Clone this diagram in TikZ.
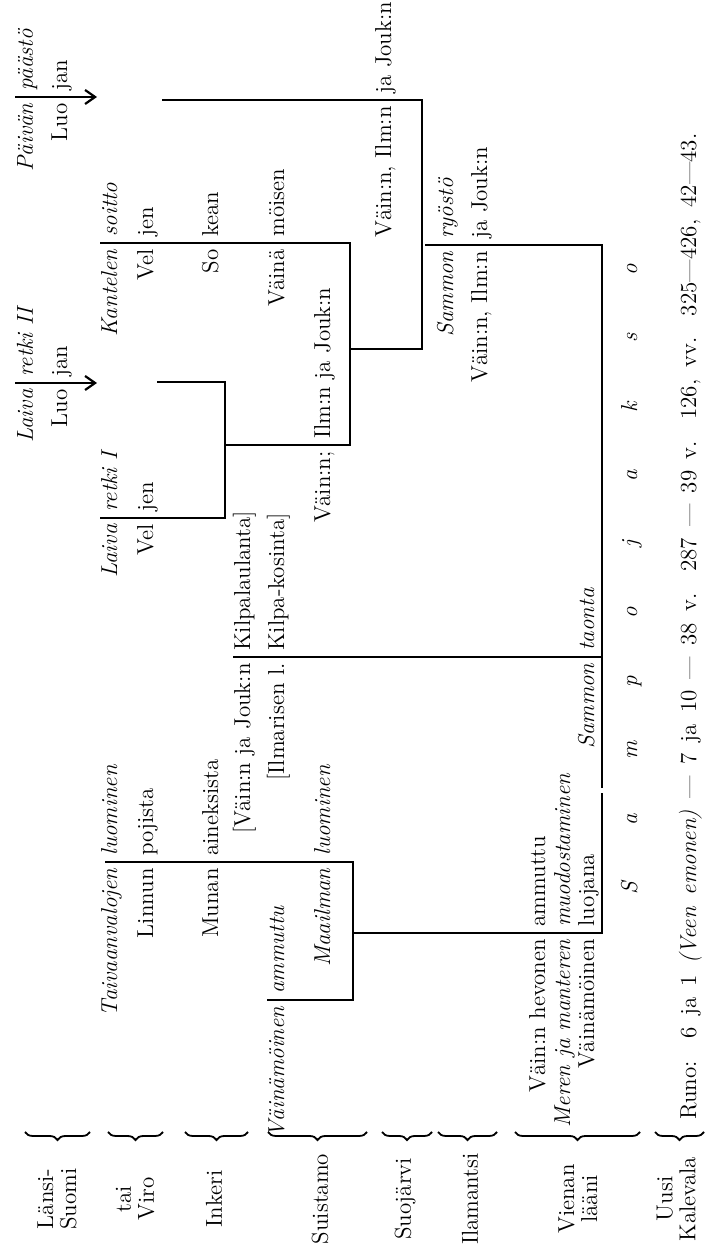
\documentclass[tikz,border=0pt]{standalone}
\usepackage{fontspec}
\usetikzlibrary{arrows.meta,decorations.pathreplacing}

\newcommand{\tabfont}{\fontsize{11.5}{11.5}\selectfont}

\begin{document}
\begin{tikzpicture}[
  x=0.5pt, y=0.5pt,
  word/.style={inner sep=0pt, font=\tabfont},
  slant/.style={inner sep=0pt, font=\tabfont\itshape},
  place/.style={inner sep=0pt, font=\tabfont, align=center},
  rule/.style={line width=1pt},
  pick/.style={rule, -{Straight Barb[length=5pt, width=7pt, line width=1.1pt]}},
  region/.style={line width=0.9pt, decorate, decoration={brace, amplitude=4pt}},
]
\begin{scope}[rotate=90, transform shape]
\useasboundingbox (0,0) rectangle (1246,-706);

% regions
\draw [region] (114,-90) -- (114,-25);
\draw [region] (114,-163) -- (114,-108);
\draw [region] (114,-248) -- (114,-185);
\draw [region] (114,-367) -- (114,-268);
\draw [region] (114,-432) -- (114,-382);
\draw [region] (114,-497) -- (114,-438);
\draw [region] (114,-640) -- (114,-515);
\draw [region] (114,-704) -- (114,-655);

\node [place] (lansi) at (47,-57) {Länsi-\\Suomi};
\node [place] (viro) at (47,-135) {tai\\Viro};
\node [place] (inkeri) at (47,-214) {Inkeri};
\node [place] (suistamo) at (47,-320) {Suistamo};
\node [place] (suojarvi) at (47,-405) {Suojärvi};
\node [place] (ilamantsi) at (47,-470) {Ilamantsi};
\node [place] (vienan) at (47,-578) {Vienan\\lääni};
\node [place] (kalevala) at (47,-676) {Uusi\\Kalevala};

% bars
\draw [pick] (1149,-15) -- (1149,-97);
\draw [pick] (863,-15) -- (863,-97);
\draw [rule] (384,-105) -- (384,-353) -- (246,-353) -- (246,-267);
\draw [rule] (313,-353) -- (313,-602) -- (453,-602);
\draw [rule] (589,-233) -- (589,-602);
\draw [rule] (1001,-425) -- (1001,-602) -- (458,-602);
\draw [rule] (1003,-100) -- (1003,-350) -- (801,-350) -- (801,-225);
\draw [rule] (728,-100) -- (728,-225) -- (864,-225) -- (864,-157);
\draw [rule] (897,-350) -- (897,-422) -- (1146,-422) -- (1146,-162);

% first lines
\node [slant, anchor=base east] (laiva2) at (857,-33) {Laiva};
\node [slant, anchor=base west] (retki2) at (869,-33) {retki II};
\node [slant, anchor=base east] (paivan) at (1143,-33) {Päivän};
\node [slant, anchor=base west] (paasto) at (1155,-33) {päästö};
\node [word, anchor=base east] (luo2) at (857,-67) {Luo};
\node [word, anchor=base west] (jan2) at (869,-67) {jan};
\node [word, anchor=base east] (luo3) at (1143,-67) {Luo};
\node [word, anchor=base west] (jan3) at (1155,-67) {jan};

\node [slant, anchor=base east] (taivas) at (378,-117) {Taivaanvalojen};
\node [slant, anchor=base west] (luomA) at (390,-117) {luominen};
\node [slant, anchor=base east] (laiva1) at (722,-117) {Laiva};
\node [slant, anchor=base west] (retki1) at (734,-117) {retki I};
\node [slant, anchor=base east] (kantele) at (997,-117) {Kantelen};
\node [slant, anchor=base west] (soitto) at (1009,-117) {soitto};
\node [word, anchor=base east] (linnun) at (378,-153) {Linnun};
\node [word, anchor=base west] (pojista) at (390,-153) {pojista};
\node [word, anchor=base east] (vel1) at (722,-153) {Vel};
\node [word, anchor=base west] (jen1) at (734,-153) {jen};
\node [word, anchor=base east] (vel2) at (997,-153) {Vel};
\node [word, anchor=base west] (jen2) at (1009,-153) {jen};

\node [word, anchor=base east] (munan) at (378,-218) {Munan};
\node [word, anchor=base west] (aines) at (390,-218) {aineksista};
\node [word, anchor=base east] (so) at (997,-218) {So};
\node [word, anchor=base west] (kean) at (1009,-218) {kean};
\node [word, anchor=base east] (vjA) at (583,-250) {[Väin:n ja Jouk:n};
\node [word, anchor=base west] (kilpaA) at (595,-250) {Kilpalaulanta]};

\node [slant, anchor=base east] (vainaA) at (240,-284) {Väinämöinen};
\node [slant, anchor=base west] (ammuA) at (252,-284) {ammuttu};
\node [word, anchor=base east] (ilmar) at (583,-284) {[Ilmarisen l.};
\node [word, anchor=base west] (kilpaB) at (595,-284) {Kilpa-kosinta]};
\node [word, anchor=base east] (vaina) at (997,-284) {Väinä};
\node [word, anchor=base west] (moisen) at (1009,-284) {möisen};
\node [slant, anchor=base east] (maailma) at (378,-330) {Maailman};
\node [slant, anchor=base west] (luomB) at (390,-330) {luominen};
\node [word, anchor=base east] (vainB) at (795,-330) {Väin:n;};
\node [word, anchor=base west] (ijA) at (807,-330) {Ilm:n ja Jouk:n};

\node [word, anchor=base east] (vi1) at (1140,-391) {Väin:n, Ilm:n};
\node [word, anchor=base west] (jj1) at (1152,-391) {ja Jouk:n};

\node [slant, anchor=base east] (sammonA) at (995,-453) {Sammon};
\node [slant, anchor=base west] (ryosto) at (1007,-453) {ryöstö};
\node [word, anchor=base east] (vi2) at (995,-487) {Väin:n, Ilm:n};
\node [word, anchor=base west] (jj2) at (1007,-487) {ja Jouk:n};

\node [word, anchor=base east] (hevonen) at (307,-545) {Väin:n hevonen};
\node [word, anchor=base west] (ammuB) at (319,-545) {ammuttu};
\node [slant, anchor=base east] (meren) at (307,-570) {Meren ja manteren};
\node [slant, anchor=base west] (muodos) at (319,-570) {muodostaminen};
\node [word, anchor=base east] (vainaB) at (307,-594) {Väinämöinen};
\node [word, anchor=base west] (luojana) at (319,-594) {luojana};
\node [slant, anchor=base east] (sammonB) at (583,-594) {Sammon};
\node [slant, anchor=base west] (taonta) at (595,-594) {taonta};

\foreach \ch [count=\i from 0] in {S,a,m,p,o,j,a,k,s,o}
  \node [slant, anchor=base] (sampo\i) at ({358+68.7*\i},-637) {\ch};

\node [word, anchor=base west] (runo) at (126,-696)
  {\makebox[493pt][s]{Runo:\quad 6 ja 1 \textit{(Veen emonen)} --- 7 ja 10 --- 38 v. 287 --- 39 v. 126, vv. 325---426, 42---43.}};

\end{scope}
\end{tikzpicture}
\end{document}
